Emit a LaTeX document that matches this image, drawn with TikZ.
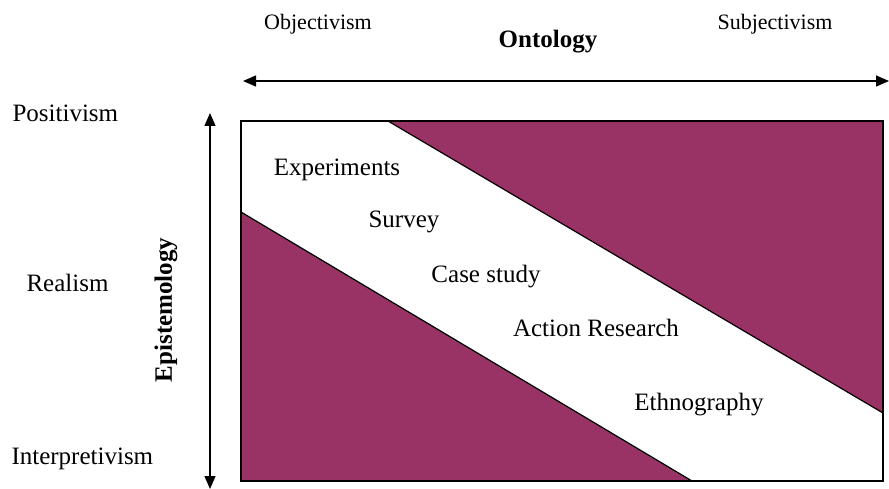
\documentclass[tikz,border=0pt]{standalone}
\usepackage{fontspec}
\setmainfont{Liberation Serif}
\usepackage{tikz}
\usetikzlibrary{arrows.meta}
\definecolor{plum}{RGB}{153,51,102}

\begin{document}
\begin{tikzpicture}[x=1pt, y=-1pt,
    axislabel/.style={anchor=base, font=\fontsize{22}{26}\selectfont},
    sidelabel/.style={anchor=base west, font=\fontsize{25}{30}\selectfont},
    method/.style={anchor=base, font=\fontsize{25}{30}\selectfont},
    axisarrow/.style={line width=1.3pt, {Triangle[length=13pt,width=11pt]}-{Triangle[length=13pt,width=11pt]}}]
  \useasboundingbox (0,0) rectangle (889,489);
  % Box corners
  \coordinate (tl) at (241,121);
  \coordinate (tr) at (883,121);
  \coordinate (bl) at (241,481);
  \coordinate (br) at (883,481);
  % Shaded corners
  \fill[plum] (388,121) -- (tr) -- (883,413) -- cycle;
  \fill[plum] (241,212) -- (bl) -- (692,481) -- cycle;
  \draw[line width=1.2pt] (388,121) -- (883,413);
  \draw[line width=1.2pt] (241,212) -- (692,481);
  \draw[line width=1.3pt] (tl) rectangle (br);
  % Axes
  \coordinate (ontoL) at (243,81);
  \coordinate (ontoR) at (889,81);
  \coordinate (epiT) at (210,113);
  \coordinate (epiB) at (210,489);
  \draw[axisarrow] (ontoL) -- (ontoR);
  \draw[axisarrow] (epiT) -- (epiB);
  % Axis labels
  \node[axislabel] (obj) at (318,30) {Objectivism};
  \node[axislabel] (subj) at (775,30) {Subjectivism};
  \node[anchor=base, font=\fontsize{25}{30}\selectfont\bfseries] (onto) at (548,48) {Ontology};
  \node[rotate=90, font=\fontsize{25}{30}\selectfont\bfseries] (epi) at (166,310) {Epistemology};
  \foreach \name/\x/\y/\txt in {pos/9/122/Positivism, real/23/291/Realism, interp/8/464/Interpretivism} {
    \node[sidelabel] (\name) at (\x,\y) {\txt};
  }
  % Methods
  \foreach \name/\x/\y/\txt in {exp/337/176/Experiments, surv/404/228/Survey, case/486/282/Case study,
                                act/596/336/Action Research, eth/699/410/Ethnography} {
    \node[method] (\name) at (\x,\y) {\txt};
  }
\end{tikzpicture}
\end{document}
